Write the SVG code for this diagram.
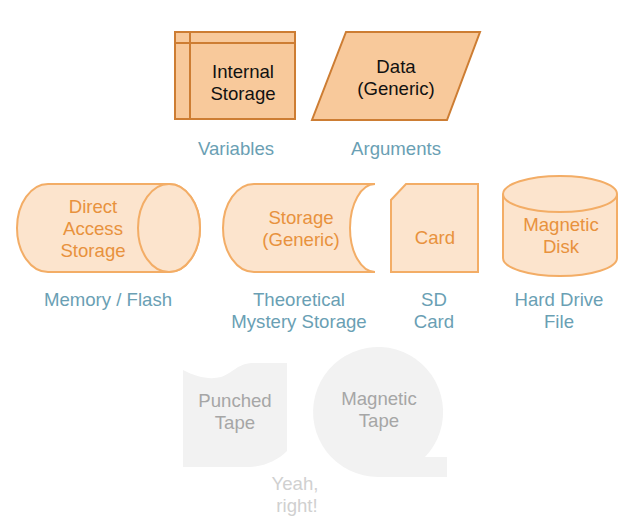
<svg xmlns="http://www.w3.org/2000/svg" width="640" height="523" viewBox="0 0 640 523">
<style>
text{font-family:"Liberation Sans",Arial,sans-serif;font-size:18.6px;text-anchor:middle}
.dark{fill:#f8c99b;stroke:#cd7d33;stroke-width:2}
.light{fill:#fce4cd;stroke:#f3ad66;stroke-width:2}
.gray{fill:#f2f2f2;stroke:none}
.tb{fill:#111}
.to{fill:#e8923d}
.tl{fill:#6a9fb4}
.tg{fill:#a6a6a6}
.tv{fill:#d0d0d0}
</style>
<g id="internal-storage">
<rect class="dark" x="175" y="32" width="120" height="87"/>
<line class="dark" x1="190" y1="32" x2="190" y2="119"/>
<line class="dark" x1="175" y1="43" x2="295" y2="43"/>
<text class="tb" x="243" y="78">Internal</text>
<text class="tb" x="243" y="100">Storage</text>
</g>
<g id="data">
<polygon class="dark" points="346,32 480,32 447,120 312,120"/>
<text class="tb" x="396" y="73">Data</text>
<text class="tb" x="396" y="95">(Generic)</text>
</g>
<g id="label-variables"><text class="tl" x="236" y="155">Variables</text></g>
<g id="label-arguments"><text class="tl" x="396" y="155">Arguments</text></g>
<g id="direct-access">
<path class="light" d="M48,184 L169,184 A31,44 0 0 1 169,272 L48,272 A31,44 0 0 1 48,184 Z"/>
<ellipse class="light" cx="169" cy="228" rx="31" ry="44"/>
<text class="to" x="93" y="213">Direct</text>
<text class="to" x="93" y="235">Access</text>
<text class="to" x="93" y="257">Storage</text>
</g>
<g id="storage-generic">
<path class="light" d="M254,184 L375,184 A25,44 0 0 0 375,272 L254,272 A31,44 0 0 1 254,184 Z"/>
<text class="to" x="301" y="224">Storage</text>
<text class="to" x="301" y="246">(Generic)</text>
</g>
<g id="card">
<path class="light" d="M406,184 L478,184 L478,272 L391,272 L391,200 Z"/>
<text class="to" x="435" y="244">Card</text>
</g>
<g id="magnetic-disk">
<path class="light" d="M503,194 A57,18 0 0 1 617,194 L617,258 A57,18 0 0 1 503,258 Z"/>
<path class="light" fill="none" d="M503,194 A57,18 0 0 0 617,194"/>
<text class="to" x="561" y="231">Magnetic</text>
<text class="to" x="561" y="253">Disk</text>
</g>
<g id="label-memory"><text class="tl" x="108" y="306">Memory / Flash</text></g>
<g id="label-theoretical"><text class="tl" x="299" y="306">Theoretical</text><text class="tl" x="299" y="328">Mystery Storage</text></g>
<g id="label-sd"><text class="tl" x="434" y="306">SD</text><text class="tl" x="434" y="328">Card</text></g>
<g id="label-hdd"><text class="tl" x="559" y="306">Hard Drive</text><text class="tl" x="559" y="328">File</text></g>
<g id="punched-tape">
<path class="gray" d="M183,370 C196,377 210,380 221,377 C233,373 237,364 252,363 L287,363 L287,451 C278,460 266,466 250,467 L183,467 Z"/>
<text class="tg" x="235" y="407">Punched</text>
<text class="tg" x="235" y="429">Tape</text>
</g>
<g id="magnetic-tape">
<path class="gray" d="M378,477 A65,65 0 1 1 425,457 L447,457 L447,477 Z"/>
<text class="tg" x="379" y="405">Magnetic</text>
<text class="tg" x="379" y="427">Tape</text>
</g>
<g id="label-yeah"><text class="tv" x="295" y="490">Yeah,</text><text class="tv" x="297" y="512">right!</text></g>
<g id="connectors"></g>
</svg>
